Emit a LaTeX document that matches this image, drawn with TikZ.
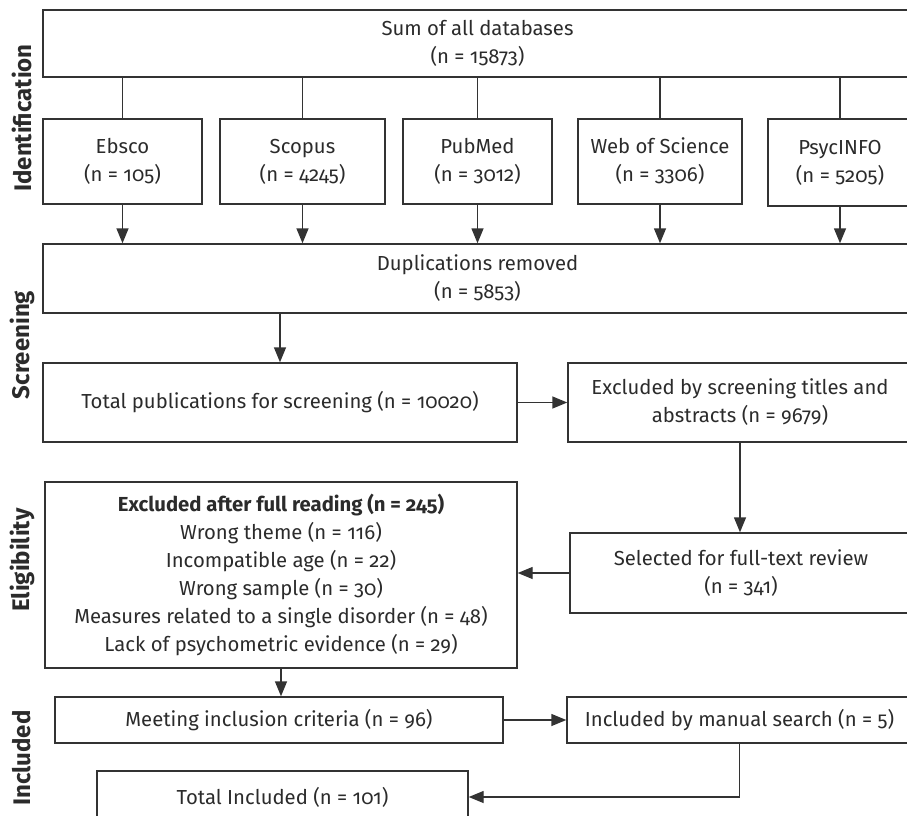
\documentclass[tikz,border=0pt]{standalone}
\usepackage{fontspec}
\setmainfont{Fira Sans}[Numbers=OldStyle]
\usetikzlibrary{arrows.meta}
\definecolor{linecol}{HTML}{333333}
\definecolor{txtcol}{HTML}{2B2B2B}
\tikzset{
  box/.style={draw=linecol, line width=1.4pt, align=center, inner sep=0pt, text=txtcol,
    font=\fontsize{20.3}{28}\selectfont},
  link/.style={draw=linecol, line width=1.4pt},
  arr/.style={link, -{Triangle[length=15pt,width=12pt]}},
  phase/.style={rotate=90, text=txtcol, font=\fontsize{24}{28}\selectfont\bfseries},
}
\begin{document}
\begin{tikzpicture}[x=1pt,y=-1pt]
  \clip (0,0) rectangle (907,816);

  % Phases
  \node [phase] (idf) at (22,118) {Identification};
  \node [phase] (scr) at (22,345) {Screening};
  \node [phase] (eli) at (22,560) {Eligibility};
  \node [phase] (inc) at (22,758) {Included};

  % Databases
  \node [box, minimum width=869pt, minimum height=67pt] (sum) at (477.5,43.5) {Sum of all databases\\(n = 15873)};
  \node [box, minimum width=159pt, minimum height=85pt] (ebsco) at (122.5,161.5) {Ebsco\\(n = 105)};
  \node [box, minimum width=165pt, minimum height=85pt] (scopus) at (302.5,161.5) {Scopus\\(n = 4245)};
  \node [box, minimum width=149pt, minimum height=85pt] (pubmed) at (477.5,161.5) {PubMed\\(n = 3012)};
  \node [box, minimum width=164pt, minimum height=85pt] (wos) at (660,161.5) {Web of Science\\(n = 3306)};
  \node [box, minimum width=144pt, minimum height=87pt] (psyc) at (840,162.5) {PsycINFO\\(n = 5205)};

  \node [box, minimum width=869pt, minimum height=69pt] (dup) at (477.5,278.5) {Duplications removed\\(n = 5853)};

  % Screening
  \node [box, minimum width=474pt, minimum height=79pt] (total) at (280,402.5) {Total publications for screening (n = 10020)};
  \node [box, minimum width=344pt, minimum height=79pt] (excl) at (740,402.5) {Excluded by screening titles and\\abstracts (n = 9679)};

  % Eligibility
  \node [box, minimum width=342pt, minimum height=80pt] (sel) at (741,573) {Selected for full-text review\\(n = 341)};
  \node [box, minimum width=472pt, minimum height=186pt] (elig) at (281,575) {\textbf{Excluded after full reading (n = 245)}\\Wrong theme (n = 116)\\Incompatible age (n = 22)\\Wrong sample (n = 30)\\Measures related to a single disorder (n = 48)\\Lack of psychometric evidence (n = 29)};

  % Included
  \node [box, minimum width=448pt, minimum height=46pt] (meet) at (279,720) {Meeting inclusion criteria (n = 96)};
  \node [box, minimum width=345pt, minimum height=46pt] (manual) at (739.5,720) {Included by manual search (n = 5)};
  \node [box, minimum width=371pt, minimum height=52pt] (final) at (282.5,797) {Total Included (n = 101)};

  % Connectors
  \foreach \db in {ebsco,scopus,pubmed,wos,psyc} {
    \draw [link] (\db.north |- sum.south) -- (\db.north);
    \draw [arr] (\db.south) -- (\db.south |- dup.north);
  }
  \draw [arr] (total.north |- dup.south) -- (total.north);
  \draw [arr] (total.east) -- (excl.west);
  \draw [arr] (excl.south) -- (excl.south |- sel.north);
  \draw [arr] (sel.west) -- (sel.west -| elig.east);
  \draw [arr] (elig.south) -- (elig.south |- meet.north);
  \draw [arr] (meet.east) -- (manual.west);
  \draw [arr] (manual.south) |- (final.east);
\end{tikzpicture}
\end{document}
